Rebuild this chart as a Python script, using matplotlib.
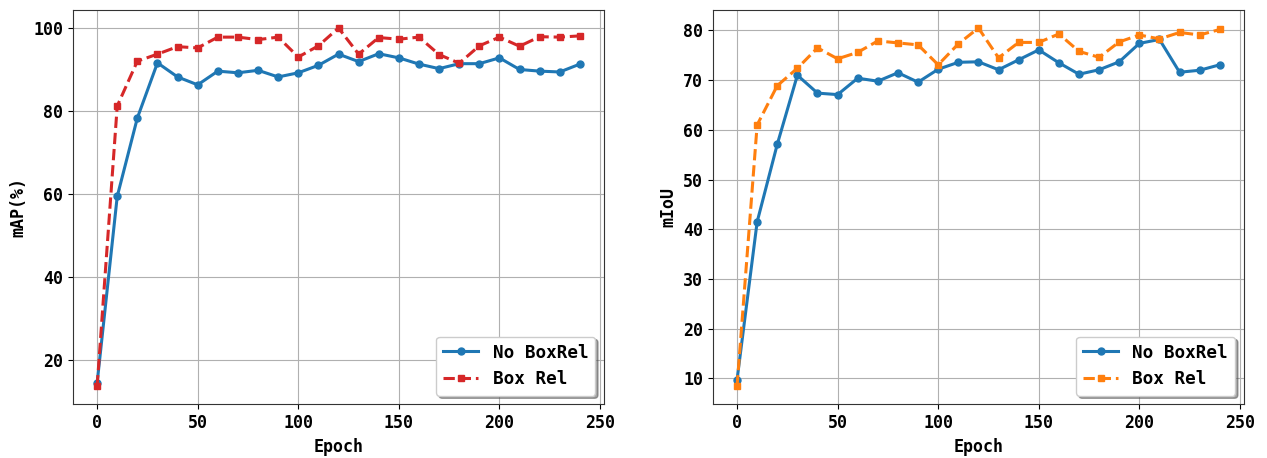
import matplotlib.pyplot as plt

plt.rcParams['font.family'] = ['DejaVu Sans Mono']
plt.rcParams['font.weight'] = 'bold'
plt.rcParams['font.size'] = 12

epochs = list(range(0, 250, 10))

# mAP (left)
map_no_boxrel = [14.4, 59.4, 78.3, 91.6, 88.2, 86.3, 89.6, 89.2, 89.8, 88.2,
                 89.2, 91.0, 93.7, 91.9, 93.8, 92.8, 91.3, 90.2, 91.4, 91.4,
                 92.8, 90.0, 89.6, 89.4, 91.3]
map_box_rel = [13.6, 81.2, 92.0, 93.7, 95.5, 95.2, 97.8, 97.8, 97.2, 97.8,
               93.0, 95.7, 100.0, 93.7, 97.7, 97.3, 97.8, 93.6, 91.5, 95.7,
               97.8, 95.6, 97.9, 97.8, 98.1]

# mIoU (right)
miou_no_boxrel = [9.7, 41.5, 57.1, 71.0, 67.4, 67.1, 70.4, 69.8, 71.5, 69.6,
                  72.2, 73.6, 73.7, 72.1, 74.1, 76.1, 73.5, 71.2, 72.1, 73.7,
                  77.4, 78.2, 71.6, 72.0, 73.1]
miou_box_rel = [8.4, 61.0, 68.9, 72.4, 76.5, 74.3, 75.6, 77.9, 77.5, 77.1,
                73.1, 77.3, 80.5, 74.5, 77.6, 77.6, 79.3, 75.8, 74.6, 77.7,
                79.1, 78.3, 79.6, 79.1, 80.2]

fig, (ax1, ax2) = plt.subplots(1, 2, figsize=(12.67, 4.58), dpi=100)
fig.subplots_adjust(left=0.0576, right=0.9818, bottom=0.1172, top=0.978, wspace=0.205)

ax1.plot(epochs, map_no_boxrel, '-o', color='tab:blue', lw=2.2, ms=5, label='No BoxRel')
ax1.plot(epochs, map_box_rel, '--s', color='tab:red', lw=2.2, ms=5, label='Box Rel')
ax1.set_ylabel('mAP(%)', fontweight='bold')

ax2.plot(epochs, miou_no_boxrel, '-o', color='tab:blue', lw=2.2, ms=5, label='No BoxRel')
ax2.plot(epochs, miou_box_rel, '--s', color='tab:orange', lw=2.2, ms=5, label='Box Rel')
ax2.set_ylabel('mIoU', fontweight='bold')

for ax in (ax1, ax2):
    ax.set_xlabel('Epoch', fontweight='bold')
    ax.set_xticks([0, 50, 100, 150, 200, 250])
    ax.grid(True)
    ax.legend(loc='lower right', shadow=True, fontsize=12.7)
    for s in ax.spines.values():
        s.set_color('#333333')

fig.savefig('out.png')
